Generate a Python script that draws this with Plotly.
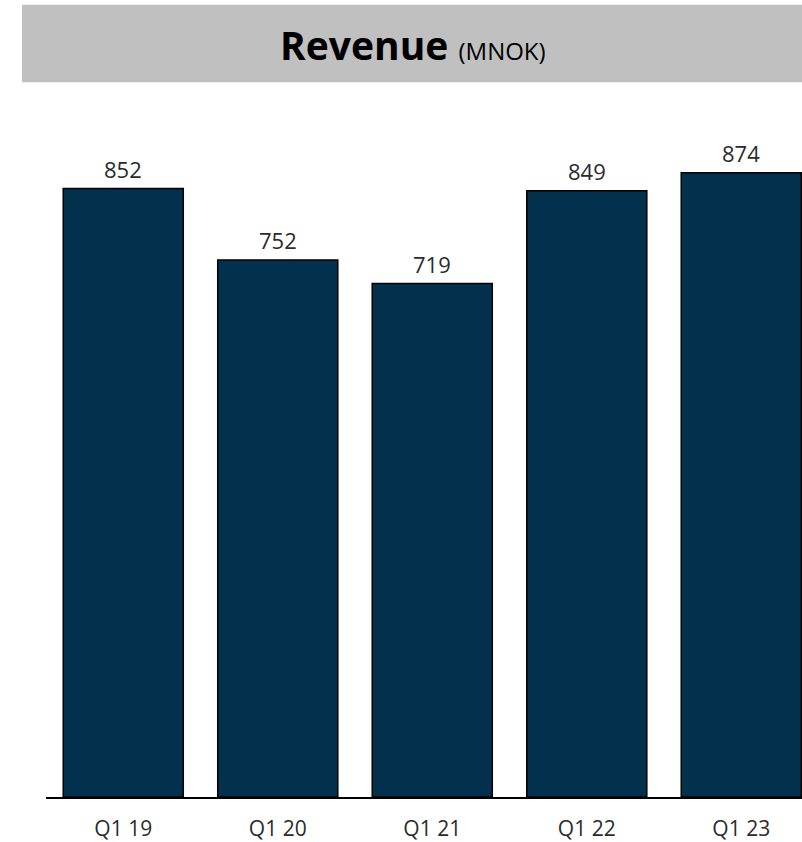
import plotly.graph_objects as go

# Quarterly revenue, MNOK
quarters = ["Q1 19", "Q1 20", "Q1 21", "Q1 22", "Q1 23"]
revenue = [852, 752, 719, 849, 874]

BAR_COLOR = "#03304C"
TEXT_COLOR = "#2b2b2b"
FONT = "Open Sans"

fig = go.Figure()
fig.add_trace(go.Bar(
    x=quarters,
    y=revenue,
    marker=dict(color=BAR_COLOR, line=dict(color="#000000", width=1.5)),
    width=0.777,
    hoverinfo="x+y",
))

# Value labels above each bar
for q, v in zip(quarters, revenue):
    fig.add_annotation(
        x=q, y=v, xref="x", yref="y",
        text=str(v), showarrow=False,
        yanchor="bottom", yshift=3,
        font=dict(family=FONT, size=22, color=TEXT_COLOR),
    )

# Grey title band
fig.add_shape(
    type="rect", xref="paper", yref="paper",
    x0=-0.0317, x1=1.0, y0=1.0256, y1=1.1368,
    fillcolor="#C0C0C0", line=dict(width=0), layer="below",
)
fig.add_annotation(
    xref="paper", yref="paper", x=0.486, y=1.0800,
    xanchor="center", yanchor="middle", showarrow=False,
    text="<b>Revenue</b> <span style='font-size:24px'>(MNOK)</span>",
    font=dict(family=FONT, size=39, color="#000000"),
)

fig.update_layout(
    width=802, height=842,
    margin=dict(l=46, r=0, t=100, b=40),
    paper_bgcolor="#FFFFFF",
    plot_bgcolor="#FFFFFF",
    showlegend=False,
    xaxis=dict(
        range=[-0.5, 4.393],
        showgrid=False, zeroline=False,
        showline=True, linecolor="#000000", linewidth=2,
        ticks="", tickfont=dict(family=FONT, size=21, color=TEXT_COLOR),
        ticklabelstandoff=12,
        fixedrange=True,
    ),
    yaxis=dict(
        range=[0, 976],
        visible=False, showgrid=False, zeroline=False,
        fixedrange=True,
    ),
)

fig.write_html("out.html")
